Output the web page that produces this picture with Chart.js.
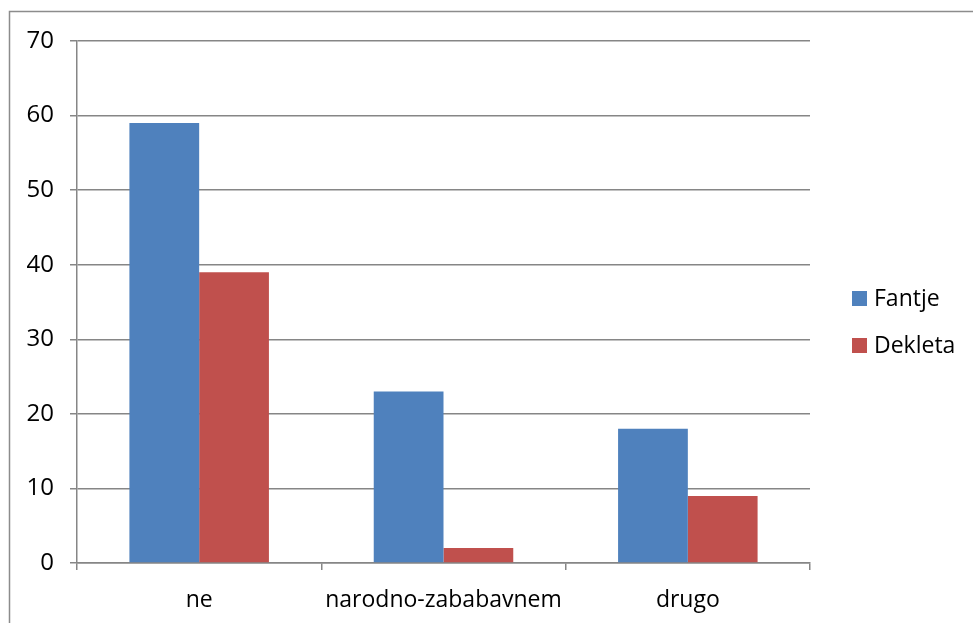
<!DOCTYPE html>
<html>
<head>
<meta charset="utf-8">
<script src="https://cdn.jsdelivr.net/npm/chart.js@4"></script>
<style>
html,body{margin:0;padding:0;background:#fff;}
#wrap{position:relative;width:973px;height:623px;}
</style>
</head>
<body>
<div id="wrap"><canvas id="c" width="973" height="623"></canvas></div>
<script>
const categories = ['ne', 'narodno-zababavnem', 'drugo'];
const fantje = [59, 23, 18];
const dekleta = [39, 2, 9];
const seriesNames = ['Fantje', 'Dekleta'];
const yTicks = [0, 10, 20, 30, 40, 50, 60, 70];

const FONT = "'Open Sans', sans-serif";
const GRID = '#868686';

const frame = {
  id: 'frame',
  beforeDraw(chart) {
    const ctx = chart.ctx;
    ctx.save();
    ctx.strokeStyle = '#8c8c8c';
    ctx.lineWidth = 1.5;
    ctx.beginPath();
    ctx.moveTo(9.5, 623);
    ctx.lineTo(9.5, 11.5);
    ctx.lineTo(973, 11.5);
    ctx.stroke();
    ctx.restore();
  }
};

const legendPlugin = {
  id: 'customLegend',
  afterDraw(chart) {
    const ctx = chart.ctx;
    ctx.save();
    ctx.font = "23px " + FONT;
    ctx.textBaseline = 'middle';
    const ys = [298, 345];
    chart.data.datasets.forEach((ds, i) => {
      ctx.fillStyle = ds.backgroundColor;
      ctx.fillRect(852, ys[i] - 7, 15, 15);
      ctx.fillStyle = '#000';
      ctx.fillText(ds.label, 874, ys[i] + 1);
    });
    ctx.restore();
  }
};

new Chart(document.getElementById('c'), {
  type: 'bar',
  data: {
    labels: categories,
    datasets: [
      { label: seriesNames[0], data: fantje, backgroundColor: '#4f81bd', borderWidth: 0 },
      { label: seriesNames[1], data: dekleta, backgroundColor: '#c0504d', borderWidth: 0 }
    ]
  },
  options: {
    responsive: false,
    animation: false,
    devicePixelRatio: 1,
    layout: { padding: { left: 0, top: 41, right: 163, bottom: 0 } },
    datasets: { bar: { categoryPercentage: 0.571, barPercentage: 1.0 } },
    plugins: { legend: { display: false }, tooltip: { enabled: false } },
    scales: {
      x: {
        grid: { display: true, drawOnChartArea: false, drawTicks: true, tickLength: 7, color: GRID, lineWidth: 1.5, offset: true },
        border: { display: true, color: GRID, width: 1.5 },
        ticks: { color: '#000', font: { family: FONT, size: 23 }, padding: 17, maxRotation: 0 },
        afterFit(s) { s.height = 623 - 563; }
      },
      y: {
        min: 0, max: 70,
        afterBuildTicks(s) { s.ticks = yTicks.map(v => ({ value: v })); },
        grid: { color: GRID, lineWidth: 1.5, tickLength: 7 },
        border: { display: true, color: GRID, width: 1.5 },
        ticks: { color: '#000', font: { family: FONT, size: 24 }, padding: 16 },
        afterFit(s) { s.width = 77; }
      }
    }
  },
  plugins: [frame, legendPlugin]
});
</script>
</body>
</html>
